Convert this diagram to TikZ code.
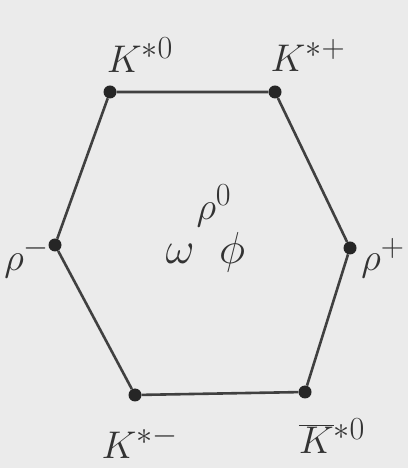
\documentclass[tikz,border=0pt]{standalone}
\begin{document}
\begin{tikzpicture}[x=1pt,y=1pt,
  vtx/.style={circle,fill=black!85,inner sep=0pt,minimum size=13pt},
  edge/.style={draw=black!75,line width=2.6pt},
  lab/.style={font=\Huge,text=black!80,inner sep=0pt,scale=1.55,transform shape},
  clab/.style={font=\Huge,text=black!80,inner sep=0pt,scale=1.8,transform shape}]
\fill[black!8] (0,0) rectangle (408,468);
\useasboundingbox (0,0) rectangle (408,468);
\node[vtx] (tl) at (110,376) {};
\node[vtx] (tr) at (275,376) {};
\node[vtx] (r) at (350,220) {};
\node[vtx] (br) at (305,76) {};
\node[vtx] (bl) at (135,73) {};
\node[vtx] (l) at (55,223) {};
\draw[edge] (tl) -- (tr) -- (r) -- (br) -- (bl) -- (l) -- (tl);
\node[lab] (k0) at (140,413) {$K^{*0}$};
\node[lab] (kp) at (308,413) {$K^{*+}$};
\node[lab] (rm) at (27,210) {$\rho^{-}$};
\node[lab] (rp) at (383,210) {$\rho^{+}$};
\node[lab] (km) at (140,26) {$K^{*-}$};
\node[lab] (kb) at (332,32) {$\overline{K}{}^{*0}$};
\node[lab] (r0) at (214,262) {$\rho^{0}$};
\node[clab] (om) at (180,214) {$\omega$};
\node[clab] (ph) at (232,216) {$\phi$};
\end{tikzpicture}
\end{document}
